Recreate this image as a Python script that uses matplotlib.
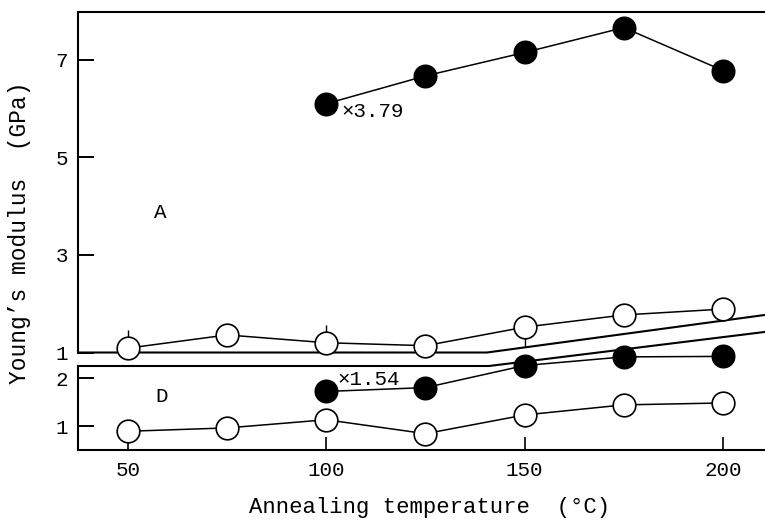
import matplotlib
matplotlib.use("Agg")
import matplotlib.pyplot as plt

plt.rcParams['font.family'] = ['Liberation Mono', 'DejaVu Sans Mono']

# ---- data ----
temps = [50, 75, 100, 125, 150, 175, 200]
temps_hi = [100, 125, 150, 175, 200]
open_A = [1.09, 1.36, 1.20, 1.14, 1.52, 1.77, 1.89]
open_A_err_lo = [0.0, 0.0, 0.0, 0.0, 0.40, 0.0, 0.21]
open_A_err_hi = [0.37, 0.0, 0.36, 0.0, 0.0, 0.0, 0.0]
filled_A = [6.10, 6.67, 7.15, 7.66, 6.78]
open_D = [0.90, 0.97, 1.14, 0.85, 1.24, 1.45, 1.49]
filled_D = [1.73, 1.81, 2.27, 2.45, 2.46]
x_ticks = [50, 100, 150, 200]
yticks_A = [1, 3, 5, 7]
yticks_D = [1, 2]

XLIM = (37.4, 210.6)
YLIM_A = (1.0, 7.98)
YLIM_D = (0.51, 2.26)

fig = plt.figure(figsize=(7.65, 5.21), dpi=100)
axA = fig.add_axes([0.102, 0.3234, 0.898, 0.6536])
axD = fig.add_axes([0.102, 0.1363, 0.898, 0.1612])

MS = 16.3
LW = 1.1

for ax in (axA, axD):
    ax.set_xlim(*XLIM)
    ax.spines['right'].set_visible(False)
    for s in ax.spines.values():
        s.set_linewidth(1.5)
    ax.tick_params(axis='y', direction='in', length=11.5, width=1.4, pad=7, labelsize=15)
    ax.tick_params(axis='x', direction='in', length=9.5, width=1.2, pad=8, labelsize=15)

# top panel
axA.set_ylim(*YLIM_A)
axA.spines['bottom'].set_visible(False)
axA.set_xticks([])
axA.set_yticks(yticks_A)
axA.set_yticklabels([str(v) for v in yticks_A])
# broken bottom edge
axA.plot([XLIM[0], 140.5, XLIM[1]], [YLIM_A[0], YLIM_A[0], 1.77], color='black', lw=1.5, clip_on=False, zorder=1)
axA.errorbar(temps, open_A, yerr=[open_A_err_lo, open_A_err_hi], fmt='none', ecolor='black', elinewidth=1.0, capsize=0, zorder=2)
axA.plot(temps, open_A, '-', color='black', lw=LW, marker='o', ms=MS, mfc='white', mec='black', mew=1.2, zorder=3, clip_on=False)
axA.plot(temps_hi, filled_A, '-', color='black', lw=LW, marker='o', ms=MS, mfc='black', mec='black', zorder=3)
axA.text(103.8, 5.93, '×3.79', fontsize=15, ha='left', va='center')
axA.text(58.2, 3.87, 'A', fontsize=15, ha='center', va='center')

# bottom panel
axD.set_ylim(*YLIM_D)
axD.spines['top'].set_visible(False)
axD.set_xticks(x_ticks)
axD.set_xticklabels([str(v) for v in x_ticks])
axD.set_yticks(yticks_D)
axD.set_yticklabels([str(v) for v in yticks_D])
axD.plot([XLIM[0], 141.0, XLIM[1]], [YLIM_D[1], YLIM_D[1], 2.97], color='black', lw=1.5, clip_on=False, zorder=1)
axD.plot(temps, open_D, '-', color='black', lw=LW, marker='o', ms=MS, mfc='white', mec='black', mew=1.2, zorder=3, clip_on=False)
axD.plot(temps_hi, filled_D, '-', color='black', lw=LW, marker='o', ms=MS, mfc='black', mec='black', zorder=3, clip_on=False)
axD.text(102.8, 1.98, '×1.54', fontsize=15, ha='left', va='center')
axD.text(58.5, 1.63, 'D', fontsize=15, ha='center', va='center')

fig.text(20 / 765, 1 - 233 / 521, 'Young’s modulus  (GPa)', rotation=90, ha='center', va='center', fontsize=16.5)
fig.text(430 / 765, 1 - 508 / 521, 'Annealing temperature  (°C)', ha='center', va='center', fontsize=16)

fig.savefig('out.png', dpi=100)
